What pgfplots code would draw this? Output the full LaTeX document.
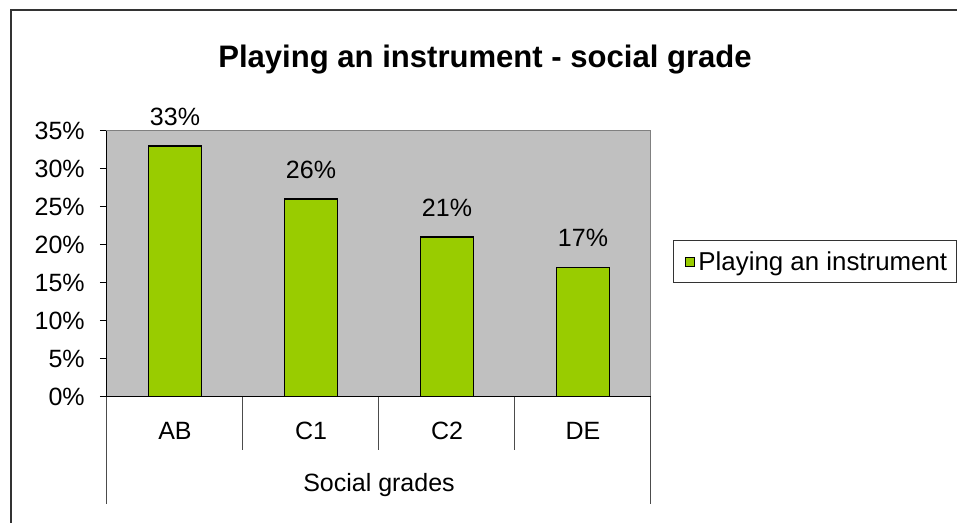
\documentclass[border=0pt]{standalone}
\usepackage{fontspec}
\setmainfont{Liberation Sans}
\usepackage{pgfplots}
\pgfplotsset{compat=1.18}
\definecolor{barfill}{HTML}{99CC00}
\definecolor{plotbg}{HTML}{C0C0C0}
\definecolor{framegray}{HTML}{808080}
\begin{document}
\begin{tikzpicture}
\useasboundingbox (0,0) rectangle (717.75pt,392.25pt);
\draw[line width=1.5pt, color=black!80] (7.875pt,-2pt) -- (7.875pt,384.4pt) -- (720pt,384.4pt);
\node[font=\bfseries\fontsize{23.3}{27}\selectfont, anchor=base, inner sep=0pt] at (363.75pt,341.25pt) {Playing an instrument - social grade};
\begin{axis}[
  at={(80.25pt,94.725pt)}, anchor=south west,
  scale only axis, width=408pt, height=199.5pt,
  xmin=0, xmax=4, ymin=0, ymax=35,
  clip=false,
  axis background/.style={fill=plotbg},
  axis line style={draw=framegray, line width=0.75pt},
  ytick={0,5,...,35},
  yticklabel={\pgfmathprintnumber{\tick}\%},
  /pgf/number format/assume math mode=true,
  tick align=outside, major tick length=5.25pt,
  ytick pos=left,
  y tick style={black, line width=0.75pt},
  xtick={0.5,1.5,2.5,3.5},
  xticklabels={AB,C1,C2,DE},
  x tick style={draw=none},
  xtick pos=bottom,
  ticklabel style={font=\fontsize{18.75}{22}\selectfont, inner sep=0pt},
  yticklabel style={anchor=east},
  yticklabel shift=11.25pt,
  xticklabel style={anchor=center},
  xticklabel shift=20.25pt,
  xlabel={Social grades},
  xlabel style={at={(axis description cs:0.5,0)}, anchor=center, yshift=-66.2pt, font=\fontsize{18.75}{22}\selectfont, inner sep=0pt},
  legend style={at={(axis description cs:1.04,0.5075)}, anchor=west, draw=black!80, line width=0.6pt,
    font=\fontsize{19.4}{22}\selectfont, legend cell align=left,
    inner sep=0pt, nodes={inner sep=0pt}, /tikz/column sep=0pt},
  legend image code/.code={\path[draw=none, fill=none] (-9pt,-15.75pt) rectangle (10pt,15.75pt);
    \draw[fill=barfill, draw=black, line width=0.75pt] (0pt,-3.4pt) rectangle (6.75pt,3.35pt);},
]
\addplot[ybar, bar width=39.75pt, fill=barfill, draw=black, line width=1.2pt,
  nodes near coords={\pgfmathprintnumber{\pgfplotspointmeta}\%},
  every node near coord/.append style={anchor=base, yshift=15.5pt, inner sep=0pt, font=\fontsize{18.75}{22}\selectfont, text=black}]
  coordinates {(0.5,33) (1.5,26) (2.5,21) (3.5,17)};
\addlegendentry{Playing an instrument\rule{6.75pt}{0pt}}
\draw[black, line width=0.75pt] (rel axis cs:0,1) -- (rel axis cs:0,0) -- (rel axis cs:1,0);
\draw[black!70, line width=0.75pt] (axis cs:1,0) -- ++(0,-40pt);
\draw[black!70, line width=0.75pt] (axis cs:2,0) -- ++(0,-40pt);
\draw[black!70, line width=0.75pt] (axis cs:3,0) -- ++(0,-40pt);
\draw[black!70, line width=0.75pt] (axis cs:0,0) -- ++(0,-80.5pt);
\draw[black!70, line width=0.75pt] (axis cs:4,0) -- ++(0,-80.5pt);
\end{axis}
\end{tikzpicture}
\end{document}
